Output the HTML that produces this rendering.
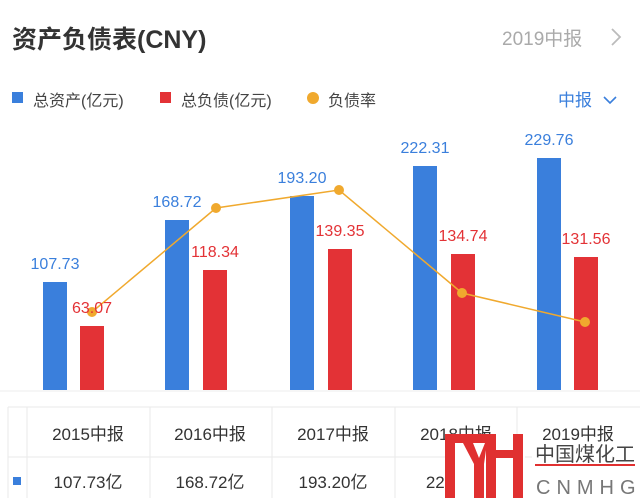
<!DOCTYPE html><html><head><meta charset="utf-8"><style>
body{margin:0;width:640px;height:498px;background:#fff;overflow:hidden;font-family:"Liberation Sans","Noto Sans CJK SC",sans-serif}
</style></head><body>
<svg width="640" height="498" xmlns="http://www.w3.org/2000/svg" font-family="Liberation Sans, Noto Sans CJK SC, sans-serif">
<text x="12" y="48" font-size="25" fill="#333" font-weight="bold">资产负债表(CNY)</text>
<text x="502" y="45" font-size="19" fill="#aaa">2019中报</text>
<path d="M612 29 L620 37 L612 45" stroke="#bbb" stroke-width="1.8" fill="none"/>
<rect x="12" y="92" width="11" height="11" fill="#3a7fdc"/>
<text x="33" y="106" font-size="16" fill="#444">总资产(亿元)</text>
<rect x="160" y="92" width="11" height="11" fill="#e33236"/>
<text x="181" y="106" font-size="16" fill="#444">总负债(亿元)</text>
<circle cx="313" cy="98" r="6" fill="#f0a92e"/>
<text x="328" y="106" font-size="16" fill="#444">负债率</text>
<text x="558" y="106" font-size="17" fill="#3a7fdc">中报</text>
<path d="M604 97 L610 103 L616 97" stroke="#3a7fdc" stroke-width="1.6" fill="none"/>
<g fill="#3a7fdc">
<rect x="43" y="282" width="24" height="108"/><rect x="165" y="220" width="24" height="170"/><rect x="290" y="196" width="24" height="194"/><rect x="413" y="166" width="24" height="224"/><rect x="537" y="158" width="24" height="232"/></g>
<g fill="#e33236">
<rect x="80" y="326" width="24" height="64"/><rect x="203" y="270" width="24" height="120"/><rect x="328" y="249" width="24" height="141"/><rect x="451" y="254" width="24" height="136"/><rect x="574" y="257" width="24" height="133"/></g>
<line x1="0" y1="391" x2="640" y2="391" stroke="#eee"/>
<polyline points="92,312 216,208 339,190 462,293 585,322" fill="none" stroke="#f0a92e" stroke-width="1.5"/>
<g fill="#f0a92e"><circle cx="92" cy="312" r="5"/><circle cx="216" cy="208" r="5"/><circle cx="339" cy="190" r="5"/><circle cx="462" cy="293" r="5"/><circle cx="585" cy="322" r="5"/></g>
<g font-size="16" fill="#3a7fdc" text-anchor="middle">
<text x="55" y="269">107.73</text><text x="177" y="207">168.72</text><text x="302" y="183">193.20</text><text x="425" y="153">222.31</text><text x="549" y="145">229.76</text></g>
<g font-size="16" fill="#e33236" text-anchor="middle">
<text x="92" y="313">63.07</text><text x="215" y="257">118.34</text><text x="340" y="236">139.35</text><text x="463" y="241">134.74</text><text x="586" y="244">131.56</text></g>
<g stroke="#eaeaea" fill="none">
<line x1="8" y1="407" x2="640" y2="407"/><line x1="8" y1="457" x2="640" y2="457"/>
<line x1="8" y1="407" x2="8" y2="498"/><line x1="27" y1="407" x2="27" y2="498"/><line x1="150" y1="407" x2="150" y2="498"/><line x1="272" y1="407" x2="272" y2="498"/><line x1="395" y1="407" x2="395" y2="498"/><line x1="517" y1="407" x2="517" y2="498"/></g>
<g font-size="17" fill="#333" text-anchor="middle">
<text x="88" y="440">2015中报</text><text x="210" y="440">2016中报</text><text x="333" y="440">2017中报</text><text x="456" y="440">2018中报</text><text x="578" y="440">2019中报</text>
<text x="88" y="488">107.73亿</text><text x="210" y="488">168.72亿</text><text x="333" y="488">193.20亿</text><text x="440" y="488">222</text></g>
<rect x="13" y="477" width="8" height="8" fill="#3a7fdc"/>
<rect x="445" y="443" width="80" height="55" fill="#fff"/>
<rect x="532" y="443" width="108" height="55" fill="#fff"/>
<g fill="#e03030">
<rect x="445" y="434" width="10" height="64"/><rect x="445" y="434" width="42" height="9"/>
<polygon points="463,443 473,443 479,458 485,443 487,443 484,464 484,498 474,498 474,464"/>
<rect x="486" y="434" width="10" height="64"/><rect x="513" y="434" width="10" height="64"/><rect x="486" y="450" width="37" height="8"/>
<rect x="535" y="464" width="100" height="2"/></g>
<text x="535" y="461" font-size="20" fill="#444">中国煤化工</text>
<text x="536" y="494" font-size="20" fill="#777" letter-spacing="6">CNMHG</text>
</svg></body></html>
